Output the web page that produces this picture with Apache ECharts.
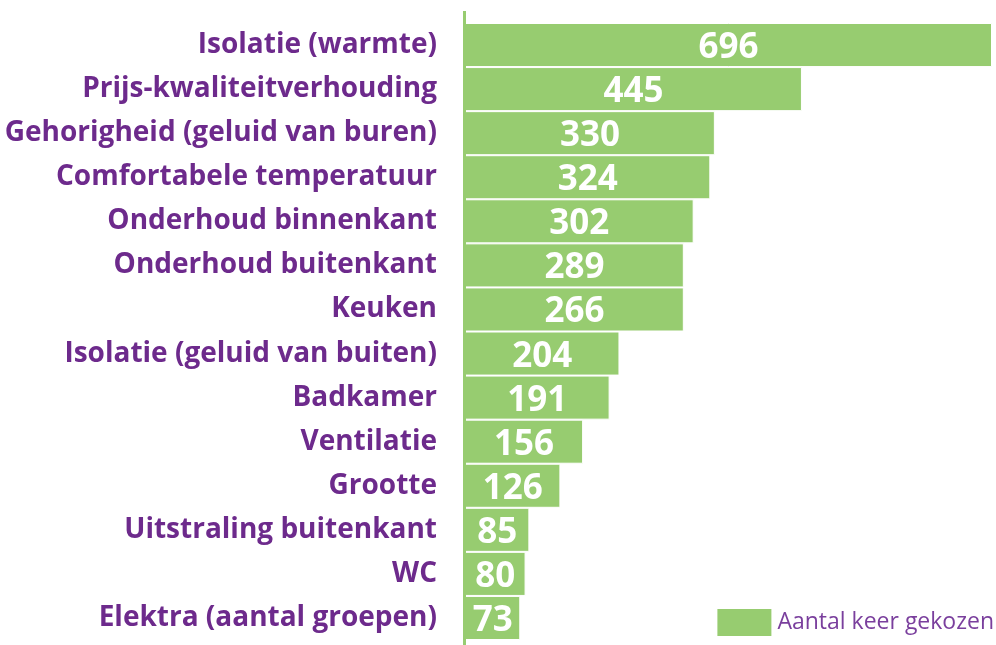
<!DOCTYPE html>
<html>
<head>
<meta charset="utf-8">
<script src="https://cdn.jsdelivr.net/npm/echarts@6/dist/echarts.min.js"></script>
<style>
  html, body { margin: 0; padding: 0; background: #fff; }
  #chart { width: 996px; height: 645px; }
</style>
</head>
<body>
<div id="chart"></div>
<script>
const categories = [
  "Isolatie (warmte)",
  "Prijs-kwaliteitverhouding",
  "Gehorigheid (geluid van buren)",
  "Comfortabele temperatuur",
  "Onderhoud binnenkant",
  "Onderhoud buitenkant",
  "Keuken",
  "Isolatie (geluid van buiten)",
  "Badkamer",
  "Ventilatie",
  "Grootte",
  "Uitstraling buitenkant",
  "WC",
  "Elektra (aantal groepen)"
];
// printed numbers
const counts = [696, 445, 330, 324, 302, 289, 266, 204, 191, 156, 126, 85, 80, 73];
// bar lengths as drawn (Keuken's bar is drawn as long as Onderhoud buitenkant)
const barLengths = [696, 445, 330, 324, 302, 289, 289, 204, 191, 156, 126, 85, 80, 73];
const seriesName = "Aantal keer gekozen";

const green = "#97cc70";
const purple = "#6d2a8c";
const font = "Open Sans";

const chart = echarts.init(document.getElementById("chart"));
chart.setOption({
  animation: false,
  grid: { left: 465, right: 4, top: 23, bottom: 5 },
  legend: {
    right: 2,
    bottom: 7,
    padding: 0,
    itemWidth: 56,
    itemHeight: 29,
    itemGap: 5,
    icon: "rect",
    textStyle: { color: "#7a3f9d", fontFamily: font, fontSize: 23, padding: [7, 0, 0, 0] },
    data: [seriesName]
  },
  xAxis: {
    type: "value",
    min: 0,
    max: 696,
    show: false
  },
  yAxis: {
    type: "category",
    inverse: true,
    data: categories,
    axisLine: { show: false },
    axisTick: { show: false },
    axisLabel: {
      margin: 28,
      color: purple,
      fontFamily: font,
      fontWeight: "bold",
      fontSize: 28,
      padding: [3, 0, 0, 0]
    }
  },
  graphic: [{
    type: "line",
    shape: { x1: 464.5, y1: 11, x2: 464.5, y2: 645 },
    style: { stroke: green, lineWidth: 3 },
    z: 10
  }],
  series: [{
    name: seriesName,
    type: "bar",
    data: barLengths,
    barCategoryGap: "0%",
    itemStyle: { color: green, borderColor: "#fff", borderWidth: 1 },
    label: {
      show: true,
      position: "inside",
      offset: [0, 3],
      color: "#fff",
      fontFamily: font,
      fontWeight: "bold",
      fontSize: 35,
      formatter: p => counts[p.dataIndex]
    }
  }]
});
</script>
</body>
</html>
